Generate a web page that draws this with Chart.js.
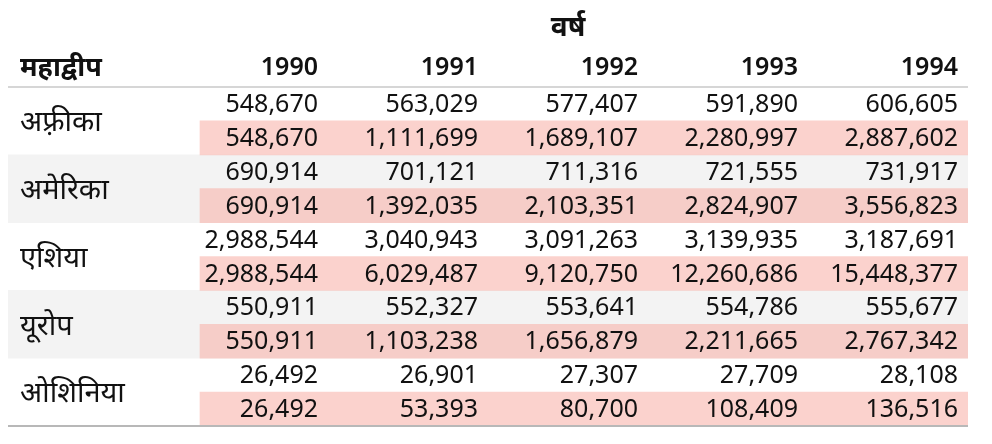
<!DOCTYPE html>
<html>
<head>
<meta charset="utf-8">
<title>महाद्वीप जनसंख्या</title>
<script src="https://cdn.jsdelivr.net/npm/chart.js"></script>
<style>
  html, body { margin: 0; padding: 0; background: #fff; }
  #wrap { width: 992px; height: 444px; position: relative; }
</style>
</head>
<body>
<div id="wrap"><canvas id="tableChart"></canvas></div>
<script>
// table data
const continents = ['अफ़्रीका', 'अमेरिका', 'एशिया', 'यूरोप', 'ओशिनिया'];
const years = ['1990', '1991', '1992', '1993', '1994'];

const africaValues = [548670, 563029, 577407, 591890, 606605];
const africaRunning = [548670, 1111699, 1689107, 2280997, 2887602];
const americaValues = [690914, 701121, 711316, 721555, 731917];
const americaRunning = [690914, 1392035, 2103351, 2824907, 3556823];
const asiaValues = [2988544, 3040943, 3091263, 3139935, 3187691];
const asiaRunning = [2988544, 6029487, 9120750, 12260686, 15448377];
const europeValues = [550911, 552327, 553641, 554786, 555677];
const europeRunning = [550911, 1103238, 1656879, 2211665, 2767342];
const oceaniaValues = [26492, 26901, 27307, 27709, 28108];
const oceaniaRunning = [26492, 53393, 80700, 108409, 136516];

const columnTitle = 'महाद्वीप';
const yearTitle = 'वर्ष';

// rows: each continent has a value row and a running-total row
const tableRows = [
    africaValues, africaRunning,
    americaValues, americaRunning,
    asiaValues, asiaRunning,
    europeValues, europeRunning,
    oceaniaValues, oceaniaRunning
];
const rowKeys = tableRows.map((r, i) => 'r' + i);

const FONT = "'Noto Sans', 'Noto Sans Devanagari', 'Lohit Devanagari', sans-serif";
const fmt = new Intl.NumberFormat('en-US');

// background bands: shaded groups and pink running-total cells
const grayBand = rowKeys.map((k, i) => (Math.floor(i / 2) % 2 === 1 ? [0, 6] : null));
const pinkBand = rowKeys.map((k, i) => (i % 2 === 1 ? [1.2, 6] : null));

const tablePlugin = {
    id: 'tableText',
    afterDatasetsDraw(chart) {
        const ctx = chart.ctx;
        const x = chart.scales.x;
        const y = chart.scales.y;
        const area = chart.chartArea;
        ctx.save();

        // header
        ctx.fillStyle = '#111';
        ctx.textBaseline = 'middle';
        ctx.font = 'bold 28px ' + FONT;
        ctx.textAlign = 'center';
        ctx.fillText(yearTitle, x.getPixelForValue(3.5), area.top - 59);
        ctx.textAlign = 'left';
        ctx.font = 'bold 27px ' + FONT;
        ctx.fillText(columnTitle, area.left + 12, area.top - 19);
        ctx.font = '600 25px ' + FONT;
        ctx.textAlign = 'right';
        years.forEach((yr, c) => {
            ctx.fillText(yr, x.getPixelForValue(c + 2) - 10, area.top - 19);
        });

        // header rule and bottom rule
        ctx.strokeStyle = '#c8c8c8';
        ctx.lineWidth = 1.5;
        ctx.beginPath();
        ctx.moveTo(area.left, area.top);
        ctx.lineTo(area.right, area.top);
        ctx.stroke();
        ctx.strokeStyle = '#b8b8b8';
        ctx.lineWidth = 2;
        ctx.beginPath();
        ctx.moveTo(area.left, area.bottom);
        ctx.lineTo(area.right, area.bottom);
        ctx.stroke();

        // continent labels, centred on their two rows
        ctx.font = '29px ' + FONT;
        ctx.textAlign = 'left';
        continents.forEach((name, g) => {
            const mid = (y.getPixelForValue(g * 2) + y.getPixelForValue(g * 2 + 1)) / 2;
            ctx.fillText(name, area.left + 12, mid + 2);
        });

        // numbers
        ctx.font = '25px ' + FONT;
        ctx.textAlign = 'right';
        tableRows.forEach((row, r) => {
            const py = y.getPixelForValue(r);
            row.forEach((v, c) => {
                ctx.fillText(fmt.format(v), x.getPixelForValue(c + 2) - 10, py + 1);
            });
        });
        ctx.restore();
    }
};

new Chart(document.getElementById('tableChart'), {
    type: 'bar',
    data: {
        labels: rowKeys,
        datasets: [
            {
                label: 'running',
                data: pinkBand,
                backgroundColor: 'rgba(248, 180, 172, 0.6)',
                grouped: false,
                barPercentage: 1,
                categoryPercentage: 1,
                borderWidth: 0
            },
            {
                label: 'shade',
                data: grayBand,
                backgroundColor: '#f3f3f3',
                grouped: false,
                barPercentage: 1,
                categoryPercentage: 1,
                borderWidth: 0
            }
        ]
    },
    options: {
        indexAxis: 'y',
        responsive: true,
        maintainAspectRatio: false,
        animation: false,
        layout: { padding: { left: 8, right: 24, top: 87, bottom: 18 } },
        scales: {
            x: { type: 'linear', min: 0, max: 6, display: false },
            y: { type: 'category', display: false, offset: true }
        },
        plugins: {
            legend: { display: false },
            tooltip: { enabled: false },
            title: { display: false }
        }
    },
    plugins: [tablePlugin]
});
</script>
</body>
</html>
